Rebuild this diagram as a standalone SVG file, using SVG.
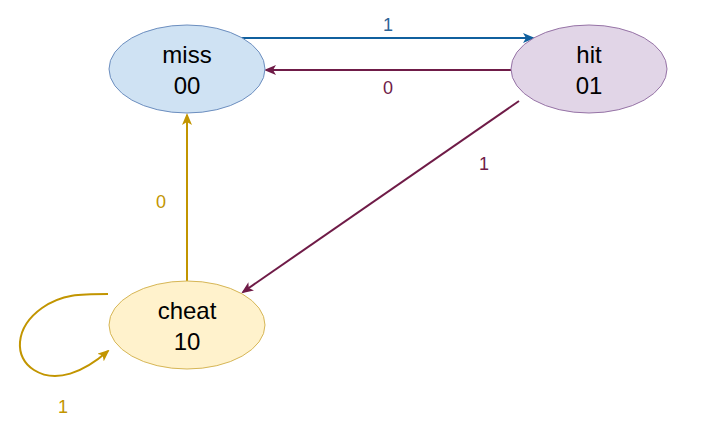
<svg xmlns="http://www.w3.org/2000/svg" width="710" height="431" viewBox="0 0 710 431">
<style>
.nt{font-family:"Liberation Sans",Arial,sans-serif;font-size:24px;fill:#000;text-anchor:middle}
.lb{font-family:"Liberation Sans",Arial,sans-serif;font-size:18px;text-anchor:middle}
.e{fill:none;stroke-width:2}
</style>
<defs>
<marker id="ab" markerWidth="12" markerHeight="10" refX="10" refY="5" orient="auto" markerUnits="userSpaceOnUse"><path d="M0,0 L12,5 L0,10 L3,5 Z" fill="#10609e"/></marker>
<marker id="ap" markerWidth="12" markerHeight="10" refX="10" refY="5" orient="auto" markerUnits="userSpaceOnUse"><path d="M0,0 L12,5 L0,10 L3,5 Z" fill="#6f1b47"/></marker>
<marker id="ag" markerWidth="12" markerHeight="10" refX="10" refY="5" orient="auto" markerUnits="userSpaceOnUse"><path d="M0,0 L12,5 L0,10 L3,5 Z" fill="#c29500"/></marker>
</defs>
<rect width="710" height="431" fill="#fff"/>
<g id="connectors">
<path class="e" d="M241,38 L533,38" stroke="#10609e" marker-end="url(#ab)"/>
<path class="e" d="M511,70 L266,70" stroke="#6f1b47" marker-end="url(#ap)"/>
<path class="e" d="M519,101 L243,292" stroke="#6f1b47" marker-end="url(#ap)"/>
<path class="e" d="M187,281 L187,115" stroke="#c29500" marker-end="url(#ag)"/>
<path class="e" d="M108,294 C80,294 62,294 42,308 C14,328 14,358 34,370 C56,384 84,372 108,351" stroke="#c29500" marker-end="url(#ag)"/>
<text class="lb" x="388" y="31" fill="#2d6496">1</text>
<text class="lb" x="388" y="94" fill="#6f1b47">0</text>
<text class="lb" x="484" y="170" fill="#6f1b47">1</text>
<text class="lb" x="161" y="208" fill="#c29500">0</text>
<text class="lb" x="63" y="413" fill="#c29500">1</text>
</g>
<g id="miss">
<ellipse cx="187" cy="69" rx="78" ry="44" fill="#cfe2f3" stroke="#6c8ebf"/>
<text class="nt" x="187" y="63">miss</text>
<text class="nt" x="187" y="94">00</text>
</g>
<g id="hit">
<ellipse cx="589" cy="69" rx="78" ry="44" fill="#e1d5e7" stroke="#9673a6"/>
<text class="nt" x="589" y="63">hit</text>
<text class="nt" x="589" y="94">01</text>
</g>
<g id="cheat">
<ellipse cx="187" cy="325" rx="78" ry="44" fill="#fff2cc" stroke="#d6b656"/>
<text class="nt" x="187" y="319">cheat</text>
<text class="nt" x="187" y="350">10</text>
</g>
</svg>
